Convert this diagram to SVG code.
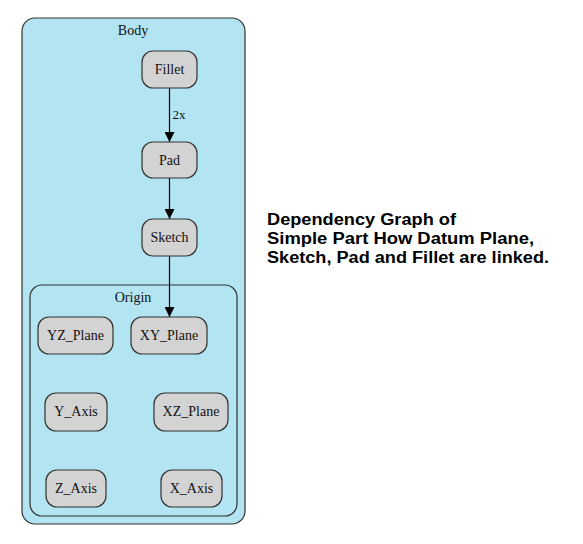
<svg xmlns="http://www.w3.org/2000/svg" width="583" height="544" viewBox="0 0 583 544">
<defs>
<style>
.cl{fill:#b3e4f2;stroke:#333;stroke-width:1.2}
.nd{fill:#d3d3d3;stroke:#333;stroke-width:1.2}
.t{font-family:"Liberation Serif","Times New Roman",serif;font-size:14px;fill:#111;text-anchor:middle}
.e{stroke:#000;stroke-width:1.2;fill:none}
.ttl{font-family:"Liberation Sans",Arial,sans-serif;font-weight:bold;font-size:16px;fill:#000}
</style>
<marker id="ah" viewBox="0 0 10 10" refX="10" refY="5" markerWidth="10" markerHeight="10" markerUnits="userSpaceOnUse" orient="auto">
<path d="M0,0 L10,5 L0,10 z" fill="#000"/>
</marker>
</defs>
<rect width="583" height="544" fill="#fff"/>
<g id="Body">
<rect class="cl" x="22" y="18" width="223" height="506" rx="13"/>
<text class="t" x="133" y="35">Body</text>
</g>
<g id="Origin">
<rect class="cl" x="30" y="285" width="207" height="231" rx="12"/>
<text class="t" x="133" y="302">Origin</text>
</g>
<g id="connectors">
<line class="e" x1="169.5" y1="88" x2="169.5" y2="142" marker-end="url(#ah)"/>
<text class="t" x="179" y="119" style="text-anchor:middle;font-size:13px">2x</text>
<line class="e" x1="169.5" y1="178" x2="169.5" y2="219" marker-end="url(#ah)"/>
<line class="e" x1="169.5" y1="256" x2="169.5" y2="317" marker-end="url(#ah)"/>
</g>
<g id="Fillet"><rect class="nd" x="142" y="51" width="55" height="37" rx="11"/><text class="t" x="169.5" y="74">Fillet</text></g>
<g id="Pad"><rect class="nd" x="142" y="142" width="55" height="36" rx="11"/><text class="t" x="169.5" y="165">Pad</text></g>
<g id="Sketch"><rect class="nd" x="142" y="219" width="55" height="37" rx="11"/><text class="t" x="169.5" y="242">Sketch</text></g>
<g id="YZ_Plane"><rect class="nd" x="38" y="317" width="75" height="37" rx="11"/><text class="t" x="75.5" y="340">YZ_Plane</text></g>
<g id="XY_Plane"><rect class="nd" x="131" y="317" width="76" height="37" rx="11"/><text class="t" x="169" y="340">XY_Plane</text></g>
<g id="Y_Axis"><rect class="nd" x="45" y="393" width="62" height="38" rx="11"/><text class="t" x="76" y="416">Y_Axis</text></g>
<g id="XZ_Plane"><rect class="nd" x="154" y="393" width="74" height="38" rx="11"/><text class="t" x="191" y="416">XZ_Plane</text></g>
<g id="Z_Axis"><rect class="nd" x="46" y="470" width="60" height="37" rx="11"/><text class="t" x="76" y="493">Z_Axis</text></g>
<g id="X_Axis"><rect class="nd" x="161" y="470" width="61" height="37" rx="11"/><text class="t" x="191.5" y="493">X_Axis</text></g>
<g id="title">
<text class="ttl" x="267" y="225" textLength="189" lengthAdjust="spacingAndGlyphs">Dependency Graph of</text>
<text class="ttl" x="267" y="244" textLength="267" lengthAdjust="spacingAndGlyphs">Simple Part How Datum Plane,</text>
<text class="ttl" x="267" y="263" textLength="282" lengthAdjust="spacingAndGlyphs">Sketch, Pad and Fillet are linked.</text>
</g>
</svg>
